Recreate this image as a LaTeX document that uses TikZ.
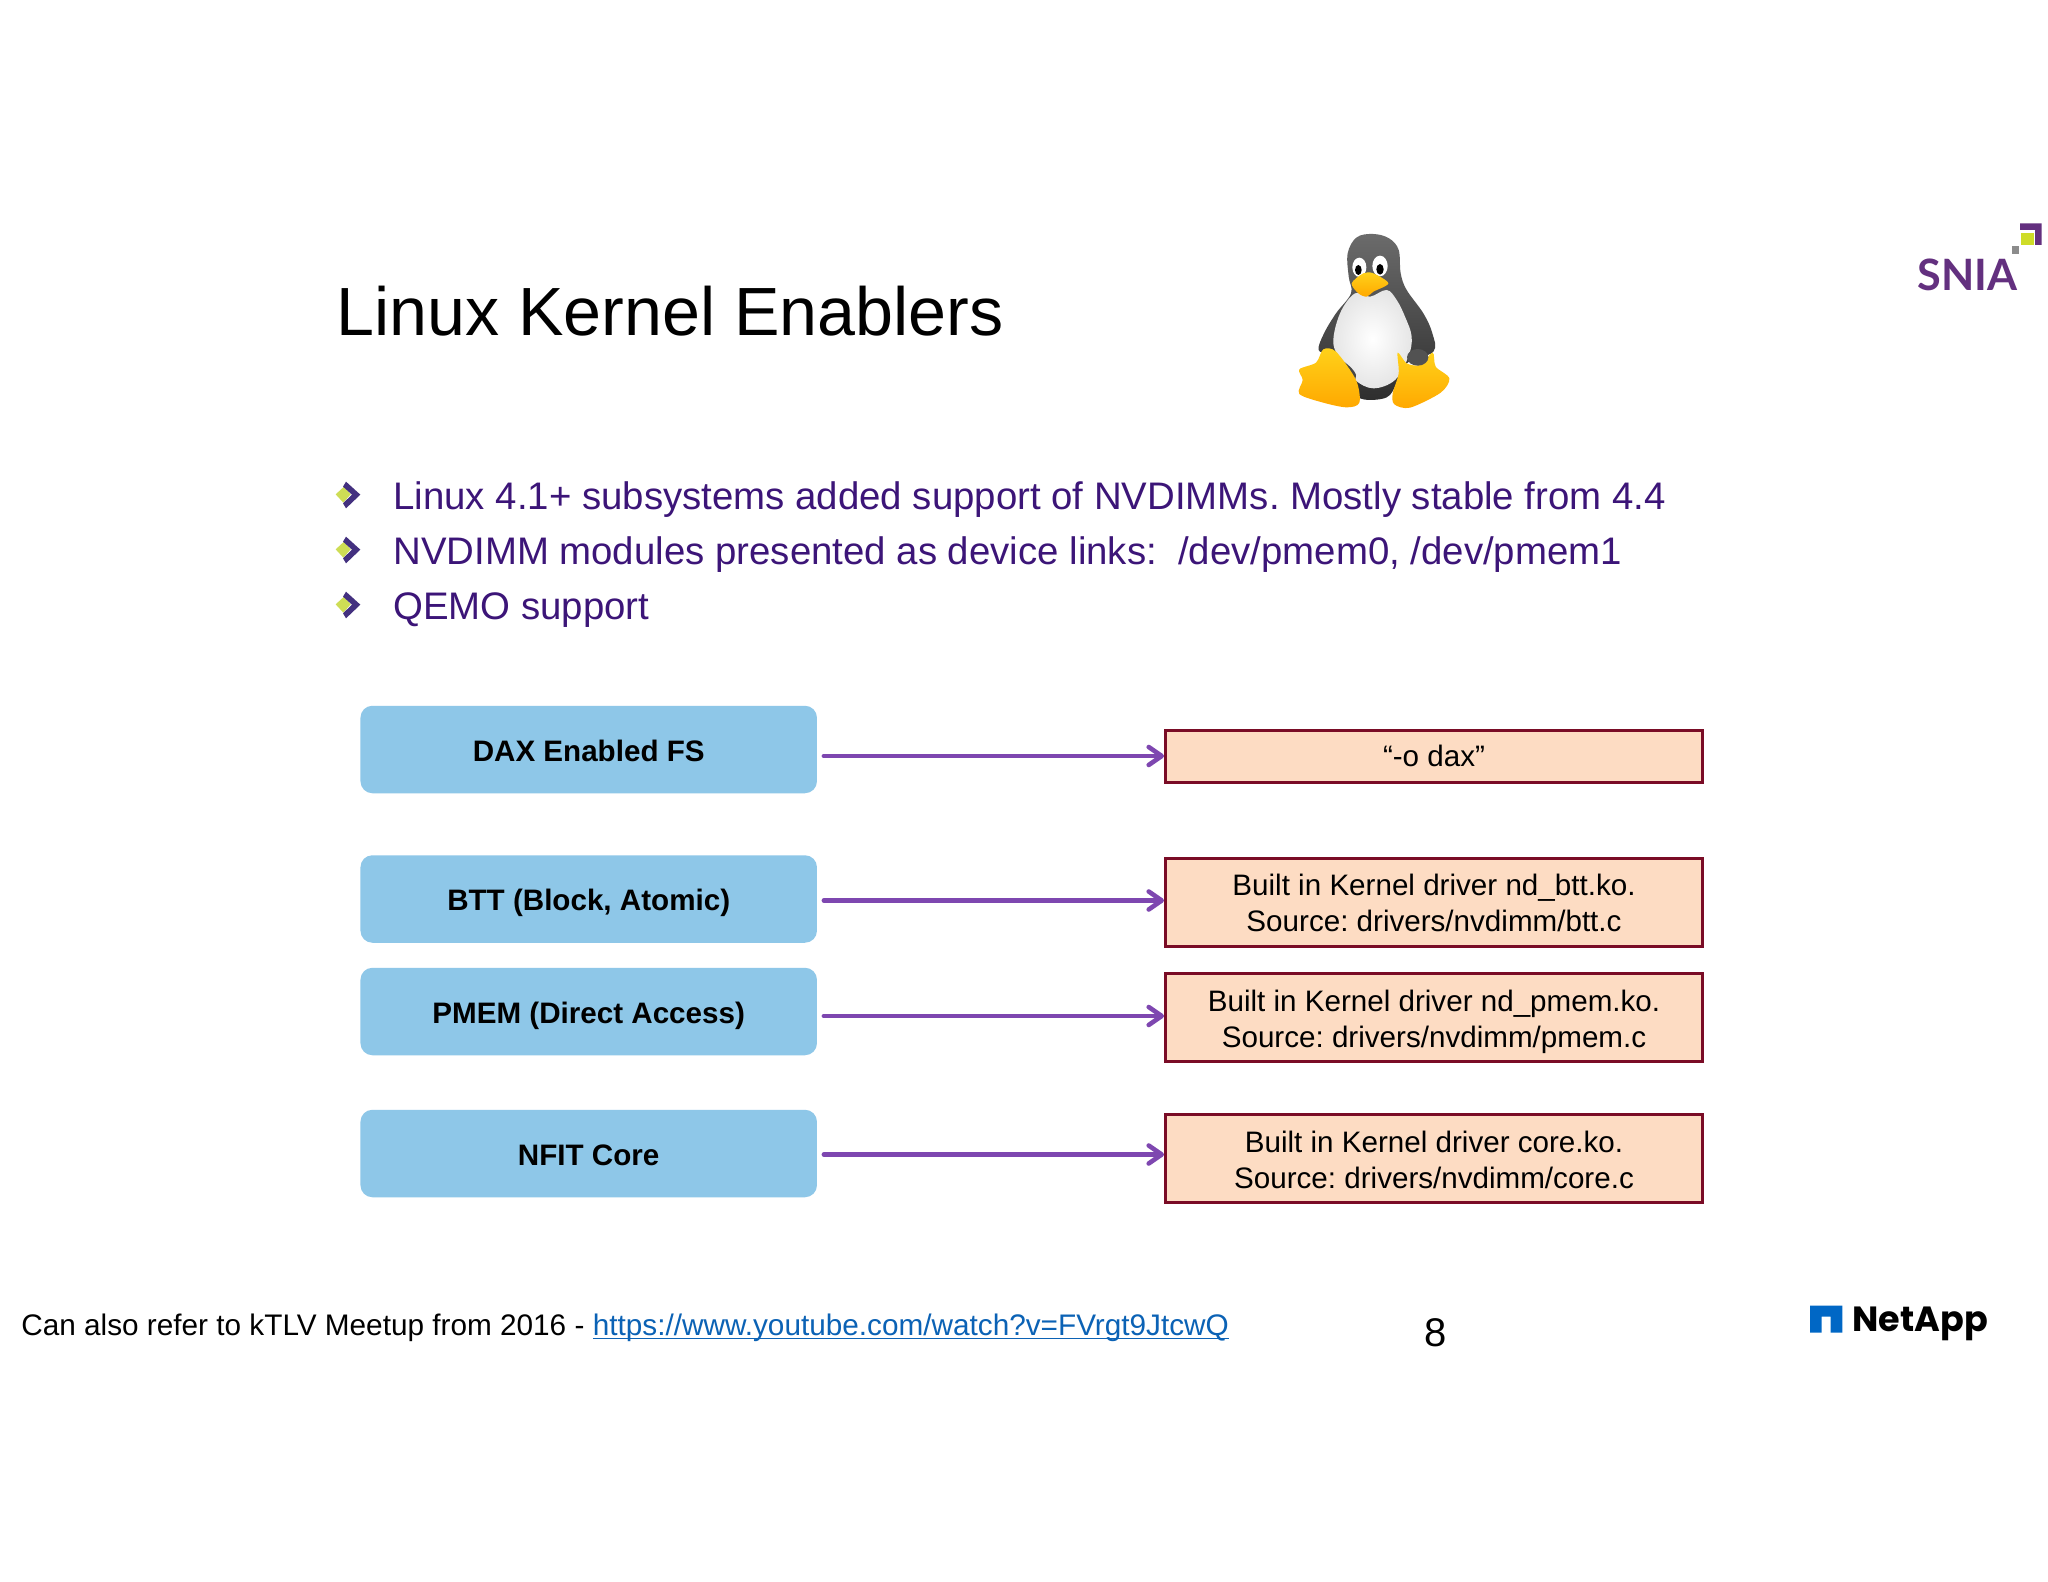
\documentclass[tikz,border=0pt]{standalone}
\usepackage{fontspec}
\setmainfont{Liberation Sans}
\newfontfamily\snialogo{Lato}
\newfontfamily\naplogo{Poppins}
\usetikzlibrary{arrows.meta}
\frenchspacing
\definecolor{bulletink}{HTML}{3C1578}
\definecolor{boxblue}{HTML}{8EC7E8}
\definecolor{boxpeach}{HTML}{FDDCC3}
\definecolor{boxred}{HTML}{7A0C26}
\definecolor{arrowpurple}{HTML}{7E47B0}
\definecolor{linkblue}{HTML}{0B62B5}
\definecolor{sniapurple}{HTML}{63307F}
\definecolor{sniagreen}{HTML}{CEDC28}
\definecolor{chevron}{HTML}{43307F}
\definecolor{diamondgreen}{HTML}{CEDD55}
\definecolor{napblue}{HTML}{0067C5}
\definecolor{footlight}{HTML}{FFD21A}
\definecolor{footdeep}{HTML}{FFA800}
\tikzset{
  leftbox/.style={fill=boxblue,rounded corners=6pt,minimum width=456.5*0.5pt,minimum height=87.5*0.5pt,inner sep=0pt,text height=11.9pt,text depth=0pt,font=\fontsize{14.8}{18}\selectfont\bfseries},
  rightbox/.style={draw=boxred,line width=1.5pt,fill=boxpeach,minimum width=537*0.5pt,inner sep=0pt,align=center,font=\fontsize{14.8}{18}\selectfont},
  flow/.style={draw=arrowpurple,line width=2.3pt,line cap=round,-{Straight Barb[length=6.5pt,width=9pt,line width=2.3pt,round]}},
  bullettext/.style={anchor=base west,inner sep=0pt,text=bulletink,font=\fontsize{19.19}{24}\selectfont},
  flat/.style={anchor=base west,inner sep=0pt},
  zoomed/.style={x=0.1666667pt,y=-0.1666667pt}
}
\begin{document}
\begin{tikzpicture}[x=0.5pt,y=-0.5pt]
\useasboundingbox (0,0) rectangle (2048,1582);
\fill[white] (0,0) rectangle (2048,1582);

\node[flat,font=\fontsize{34.1}{40}\selectfont] (title) at (336,336) {Linux Kernel Enablers};

% penguin
\begin{scope}[shift={(1240,210)},zoomed]
\shade[top color=black!58,bottom color=black!82] plot[smooth cycle,tension=0.6] coordinates {(400,72)(350,82)(323,130)(326,200)(333,250)(288,310)(252,370)(236,420)(270,440)(340,540)(370,568)(440,562)(470,520)(500,460)(580,425)(577,370)(550,310)(500,240)(482,190)(476,120)(447,85)};
\shade[inner color=white,outer color=black!10] plot[smooth cycle,tension=0.6] coordinates {(345,250)(300,310)(280,400)(310,460)(345,510)(400,535)(465,510)(505,440)(515,380)(495,320)(470,270)(440,240)(390,260)};
\fill[black!72] plot[smooth cycle,tension=0.6] coordinates {(300,450)(330,470)(348,495)(340,510)(315,490)};
\shade[top color=footlight,bottom color=footdeep] plot[smooth cycle,tension=0.5] coordinates {(250,418)(288,425)(348,510)(358,578)(320,592)(250,578)(178,552)(188,510)(178,478)(228,458)};
\shade[top color=footlight,bottom color=footdeep] plot[smooth cycle,tension=0.5] coordinates {(473,428)(500,460)(540,465)(578,428)(587,470)(628,505)(602,548)(510,593)(463,583)(458,550)(476,490)};
\fill[black!68] (533,442) ellipse [x radius=32,y radius=25];
\fill[white] (358,172) ellipse [x radius=21,y radius=29];
\fill[white] (420,168) ellipse [x radius=23,y radius=31];
\fill[black] (355,180) ellipse [x radius=10,y radius=15];
\fill[black] (420,178) ellipse [x radius=11,y radius=16];
\shade[top color=footlight,bottom color=footdeep] plot[smooth cycle,tension=0.5] coordinates {(335,220)(370,190)(400,190)(445,220)(400,245)(380,260)(355,250)};
\end{scope}

% SNIA logo
\begin{scope}[shift={(1880,210)},zoomed]
\fill[sniapurple] (420,40) -- (485,40) -- (485,105) -- (465,105) -- (465,60) -- (420,60) -- cycle;
\fill[sniagreen] (422,68) rectangle (462,105);
\fill[black!45] (395,108) rectangle (418,132);
\end{scope}
\node[flat,text=sniapurple,font=\fontsize{21.6}{24}\snialogo\bfseries\selectfont] (snia) at (1917,291) {SNIA};

% bullets
\foreach \n/\dy in {0/0,1/165,2/330}{
\begin{scope}[shift={(320,460)},zoomed,yshift=-\dy*0.1666667pt]
\fill[diamondgreen] (47,103) -- (72,80) -- (92,103) -- (70,128) -- cycle;
\fill[chevron] (78,65) -- (121,104) -- (78,145) -- (69,130) -- (96,104) -- (69,80) -- cycle;
\end{scope}
}
\node[bullettext] (b1) at (393,510) {Linux 4.1+ subsystems added support of NVDIMMs. Mostly stable from 4.4};
\node[bullettext] (b2) at (393,564.5) {NVDIMM modules presented as device links:\ \ /dev/pmem0, /dev/pmem1};
\node[bullettext] (b3) at (393,619) {QEMO support};

% left boxes
\node[leftbox] (l1) at (588.7,749.5) {DAX Enabled FS};
\node[leftbox] (l2) at (588.7,899) {BTT (Block, Atomic)};
\node[leftbox] (l3) at (588.7,1011.5) {PMEM (Direct Access)};
\node[leftbox] (l4) at (588.7,1153.5) {NFIT Core};

% right boxes
\node[rightbox,minimum height=52*0.5pt] (r1) at (1434,756) {“-o dax”};
\node[rightbox,minimum height=88*0.5pt] (r2) at (1434,902.5) {Built in Kernel driver nd\_btt.ko.\\Source: drivers/nvdimm/btt.c};
\node[rightbox,minimum height=88*0.5pt] (r3) at (1434,1017) {\rule{0pt}{15.2pt}Built in Kernel driver nd\_pmem.ko.\\Source: drivers/nvdimm/pmem.c};
\node[rightbox,minimum height=88*0.5pt] (r4) at (1434,1158.5) {\rule{0pt}{12pt}Built in Kernel driver core.ko.\\Source: drivers/nvdimm/core.c};

% connectors
\draw[flow] ([shift={(6.5,-3.25pt)}]l1.east) -- (r1.west);
\draw[flow] ([shift={(6.5,-0.75pt)}]l2.east) -- ([yshift=1pt]r2.west);
\draw[flow] ([shift={(6.5,-2.25pt)}]l3.east) -- ([yshift=0.5pt]r3.west);
\draw[flow] ([shift={(6.5,-0.5pt)}]l4.east) -- ([yshift=2pt]r4.west);

% footer
\node[flat,font=\fontsize{14.87}{18}\selectfont] (foot) at (21,1335.5) {Can also refer to kTLV Meetup from 2016 - \textcolor{linkblue}{\underline{\smash{https://www.youtube.com/watch?v=FVrgt9JtcwQ}}}};
\node[anchor=base,inner sep=0pt,font=\fontsize{20}{24}\selectfont] (pageno) at (1435.5,1346) {8};

% NetApp logo
\begin{scope}[shift={(1780,1280)},zoomed]
\fill[napblue] (90,77) -- (187,77) -- (187,158) -- (152,158) -- (152,110) -- (125,110) -- (125,158) -- (90,158) -- cycle;
\end{scope}
\node[flat,font=\fontsize{17.5}{22}\naplogo\bfseries\selectfont] (netapp) at (1852,1331) {NetApp};
\end{tikzpicture}
\end{document}
